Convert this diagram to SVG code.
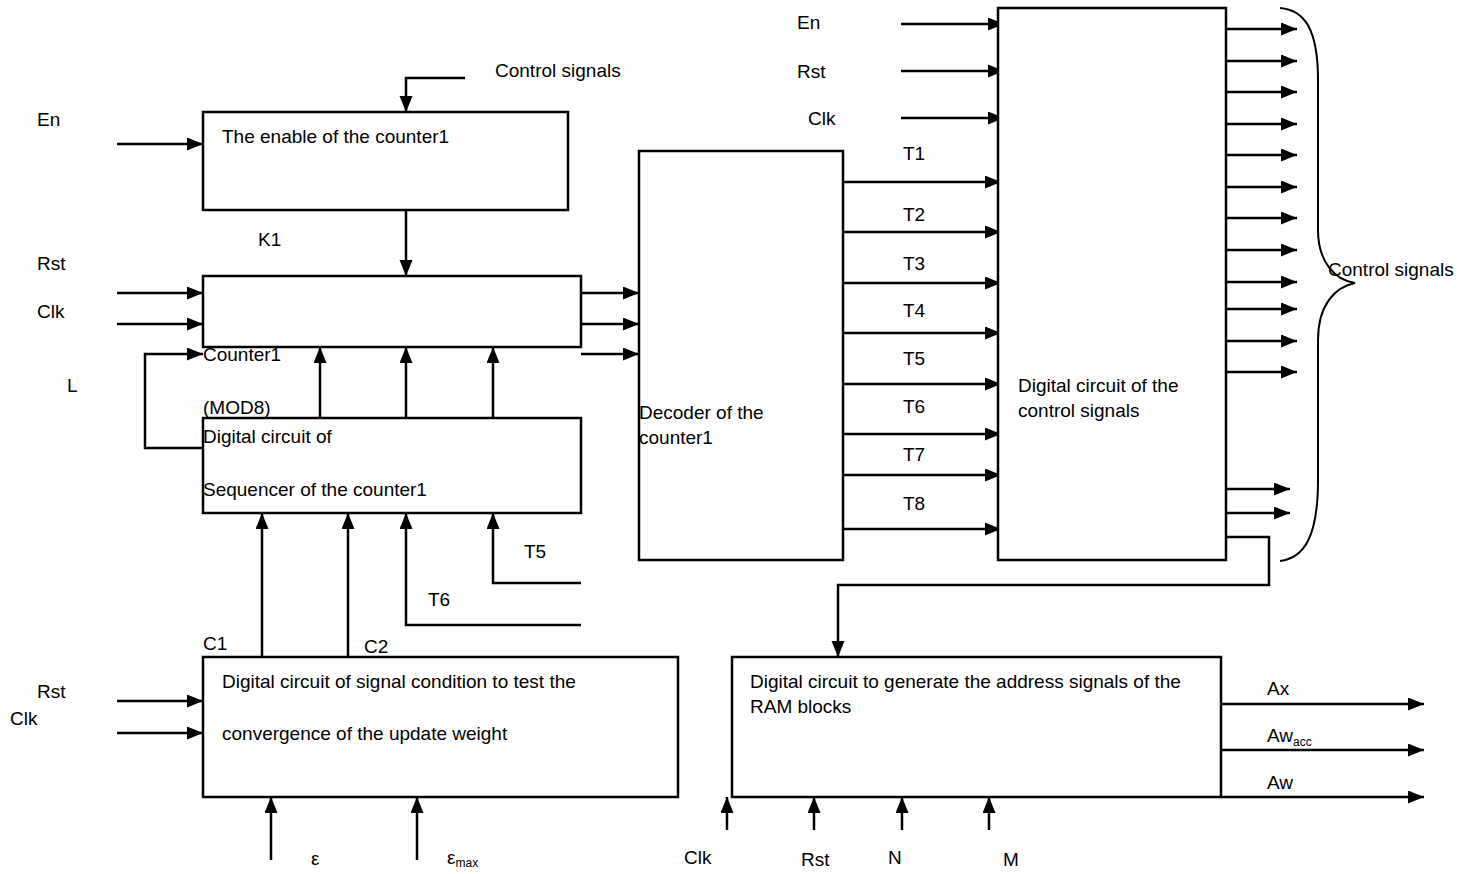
<svg xmlns="http://www.w3.org/2000/svg" width="1460" height="874" viewBox="0 0 1460 874">
<defs>
<marker id="ah" markerUnits="userSpaceOnUse" markerWidth="17" markerHeight="14" refX="16" refY="6.5" orient="auto">
<path d="M0,0 L16,6.5 L0,13 z" fill="#000"/>
</marker>
<style>
text{font-family:"Liberation Sans",Arial,sans-serif;font-size:19px;fill:#000}
.sub{font-size:12px}
.box{fill:#fff;stroke:#000;stroke-width:2.5}
.a{fill:none;stroke:#000;stroke-width:2.5;marker-end:url(#ah)}
</style>
</defs>
<rect width="1460" height="874" fill="#fff"/>

<g id="connectors">
<path class="a" d="M465,78 H406 V112"/>
<path class="a" d="M117,144 H203"/>
<path class="a" d="M406,210 V276"/>
<path class="a" d="M117,293 H203"/>
<path class="a" d="M117,324 H203"/>
<path class="a" d="M203,448 H145 V354 H203"/>
<path class="a" d="M320,418 V347"/>
<path class="a" d="M406,418 V347"/>
<path class="a" d="M493,418 V347"/>
<path class="a" d="M581,293 H639"/>
<path class="a" d="M581,324 H639"/>
<path class="a" d="M581,354 H639"/>
<path class="a" d="M262,657 V513"/>
<path class="a" d="M348,657 V513"/>
<path class="a" d="M581,625 H406 V513"/>
<path class="a" d="M581,583 H493 V513"/>
<path class="a" d="M117,701 H203"/>
<path class="a" d="M117,733 H203"/>
<path class="a" d="M271,860 V797"/>
<path class="a" d="M417,860 V797"/>
<path class="a" d="M843,182 H1001"/>
<path class="a" d="M843,232 H1001"/>
<path class="a" d="M843,283 H1001"/>
<path class="a" d="M843,333 H1001"/>
<path class="a" d="M843,384 H1001"/>
<path class="a" d="M843,434 H1001"/>
<path class="a" d="M843,475 H1001"/>
<path class="a" d="M843,529 H1001"/>
<path class="a" d="M901,24 H1004"/>
<path class="a" d="M901,71 H1004"/>
<path class="a" d="M901,118 H1004"/>
<path class="a" d="M1222,29 H1297"/>
<path class="a" d="M1222,61 H1297"/>
<path class="a" d="M1222,92 H1297"/>
<path class="a" d="M1222,124 H1297"/>
<path class="a" d="M1222,155 H1297"/>
<path class="a" d="M1222,187 H1297"/>
<path class="a" d="M1222,218 H1297"/>
<path class="a" d="M1222,250 H1297"/>
<path class="a" d="M1222,282 H1297"/>
<path class="a" d="M1222,309 H1297"/>
<path class="a" d="M1222,341 H1297"/>
<path class="a" d="M1222,372 H1297"/>
<path class="a" d="M1214,489 H1290"/>
<path class="a" d="M1214,513 H1290"/>
<path class="a" d="M1215,537 H1269 V585 H838 V657"/>
<path class="a" d="M1221,704 H1424"/>
<path class="a" d="M1221,750 H1424"/>
<path class="a" d="M1221,797 H1424"/>
<path class="a" d="M727,830 V797"/>
<path class="a" d="M814,830 V797"/>
<path class="a" d="M902,830 V797"/>
<path class="a" d="M989,830 V797"/>
<path fill="none" stroke="#000" stroke-width="2" d="M1280,8 C1305,10 1318,30 1318,80 L1318,230 C1318,262 1335,280 1355,283 C1335,287 1318,305 1318,340 L1318,480 C1318,535 1305,558 1280,561"/>
</g>

<g id="enable">
<rect class="box" x="203" y="112" width="365" height="98"/>
<text x="222" y="143">The enable of the counter1</text>
</g>
<g id="counter1">
<rect class="box" x="203" y="276" width="378" height="71"/>
<text x="203" y="361">Counter1</text>
</g>
<g id="sequencer">
<rect class="box" x="203" y="418" width="378" height="95"/>
<text x="203" y="443">Digital circuit of</text>
<text x="203" y="496">Sequencer of the counter1</text>
</g>
<g id="convergence">
<rect class="box" x="203" y="657" width="475" height="140"/>
<text x="222" y="688">Digital circuit of signal condition to test the</text>
<text x="222" y="740">convergence of the update weight</text>
</g>
<g id="decoder">
<rect class="box" x="639" y="151" width="204" height="409"/>
<text x="639" y="419">Decoder of the</text>
<text x="639" y="444">counter1</text>
</g>
<g id="control">
<rect class="box" x="998" y="8" width="228" height="552"/>
<text x="1018" y="392">Digital circuit of the</text>
<text x="1018" y="417">control signals</text>
</g>
<g id="address">
<rect class="box" x="732" y="657" width="489" height="140"/>
<text x="750" y="688">Digital circuit to generate the address signals of the</text>
<text x="750" y="713">RAM blocks</text>
</g>

<g id="labels">
<text x="495" y="77">Control signals</text>
<text x="37" y="126">En</text>
<text x="258" y="246">K1</text>
<text x="37" y="270">Rst</text>
<text x="37" y="318">Clk</text>
<text x="67" y="392">L</text>
<text x="203" y="414">(MOD8)</text>
<text x="524" y="558">T5</text>
<text x="428" y="606">T6</text>
<text x="203" y="650">C1</text>
<text x="364" y="653">C2</text>
<text x="37" y="698">Rst</text>
<text x="10" y="725">Clk</text>
<text x="311" y="865">ε</text>
<text x="447" y="864">ε<tspan class="sub" dy="3">max</tspan></text>
<text x="797" y="29">En</text>
<text x="797" y="78">Rst</text>
<text x="808" y="125">Clk</text>
<text x="903" y="160">T1</text>
<text x="903" y="221">T2</text>
<text x="903" y="270">T3</text>
<text x="903" y="317">T4</text>
<text x="903" y="365">T5</text>
<text x="903" y="413">T6</text>
<text x="903" y="461">T7</text>
<text x="903" y="510">T8</text>
<text x="1328" y="276">Control signals</text>
<text x="1267" y="695">Ax</text>
<text x="1267" y="742">Aw<tspan class="sub" dy="4">acc</tspan></text>
<text x="1267" y="789">Aw</text>
<text x="684" y="864">Clk</text>
<text x="801" y="866">Rst</text>
<text x="888" y="864">N</text>
<text x="1003" y="866">M</text>
</g>
</svg>
